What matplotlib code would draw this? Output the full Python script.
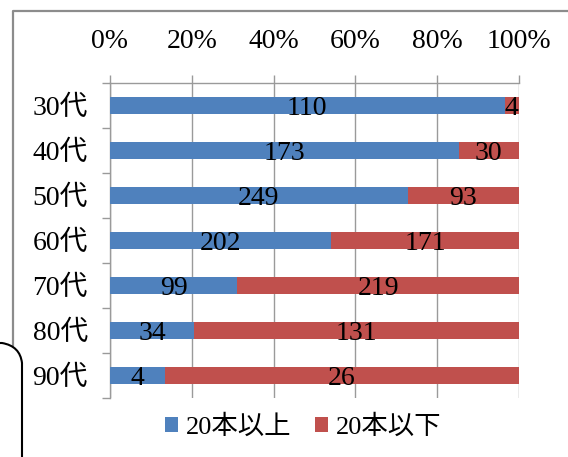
import matplotlib
matplotlib.use("Agg")
import matplotlib.pyplot as plt
from matplotlib.patches import Patch, PathPatch
from matplotlib.path import Path
from matplotlib.lines import Line2D
import numpy as np

categories = ["30代", "40代", "50代", "60代", "70代", "80代", "90代"]
over20 = [110, 173, 249, 202, 99, 34, 4]
under20 = [4, 30, 93, 171, 219, 131, 26]
series_names = ["20本以上", "20本以下"]
pct_ticks = [0, 20, 40, 60, 80, 100]
pct_labels = ["0%", "20%", "40%", "60%", "80%", "100%"]

FONT = ["Liberation Serif", "Noto Sans CJK JP"]
plt.rcParams["font.family"] = FONT

BLUE = "#4F81BD"
RED = "#C0504D"
GRID = "#9a9a9a"

W, H = 568, 457
fig = plt.figure(figsize=(W / 100, H / 100), dpi=100)

# frame around the chart area
fig.add_artist(Line2D([(W + 5) / W, 12.5 / W, 12.5 / W],
                      [1 - 10.5 / H, 1 - 10.5 / H, -0.05],
                      transform=fig.transFigure, color="#8c8c8c", lw=1.6, zorder=1))

ax = fig.add_axes([110 / W, 1 - 398 / H, 409 / W, 315 / H])

a = np.array(over20, float)
b = np.array(under20, float)
tot = a + b
pa = a / tot * 100
pb = b / tot * 100
y = np.arange(len(categories))
bh = 0.38

ax.barh(y, pa, height=bh, color=BLUE, zorder=3)
ax.barh(y, pb, left=pa, height=bh, color=RED, zorder=3)

for i in range(len(categories)):
    ax.text(pa[i] / 2, y[i], str(over20[i]), ha="center", va="center_baseline",
            fontsize=20, color="black", zorder=4)
    ax.text(pa[i] + pb[i] / 2, y[i], str(under20[i]), ha="center", va="center_baseline",
            fontsize=20, color="black", zorder=4)

ax.set_xlim(0, 100)
ax.set_ylim(len(categories) - 0.5, -0.5)

ax.xaxis.tick_top()
ax.set_xticks(pct_ticks)
ax.set_xticklabels(pct_labels, fontsize=20)
ax.tick_params(axis="x", which="major", direction="out", length=6, width=1,
               color=GRID, pad=15)
ax.grid(axis="x", color=GRID, lw=1, zorder=0)

ax.set_yticks(y)
ax.set_yticklabels(categories, fontsize=20)
ax.tick_params(axis="y", which="major", length=0, pad=16)
ax.set_yticks(np.arange(-0.5, len(categories)), minor=True)
ax.tick_params(axis="y", which="minor", direction="out", length=6, width=1, color=GRID)

for s in ["right", "bottom"]:
    ax.spines[s].set_visible(False)
for s in ["top", "left"]:
    ax.spines[s].set_color(GRID)
    ax.spines[s].set_linewidth(1)
ax.set_axisbelow(True)

handles = [Patch(facecolor=BLUE, edgecolor="none"), Patch(facecolor=RED, edgecolor="none")]
fig.legend(handles, series_names, loc="center", bbox_to_anchor=(303 / W, 1 - 427 / H),
           ncol=2, frameon=False, fontsize=19, handlelength=0.5, handleheight=0.5,
           handletextpad=0.3, columnspacing=0.9)

# rounded callout edge at lower left
px = lambda xv, yv: (xv / W, 1 - yv / H)
verts = [px(-10, 343), px(2, 343), px(20, 346), px(22, 363), px(22, 470), px(-10, 470), px(-10, 343)]
codes = [Path.MOVETO, Path.LINETO, Path.CURVE3, Path.CURVE3, Path.LINETO, Path.LINETO, Path.CLOSEPOLY]
fig.add_artist(PathPatch(Path(verts, codes), facecolor="white", edgecolor="black",
                         lw=1.5, transform=fig.transFigure, zorder=5))

fig.savefig("out.png", dpi=100)
